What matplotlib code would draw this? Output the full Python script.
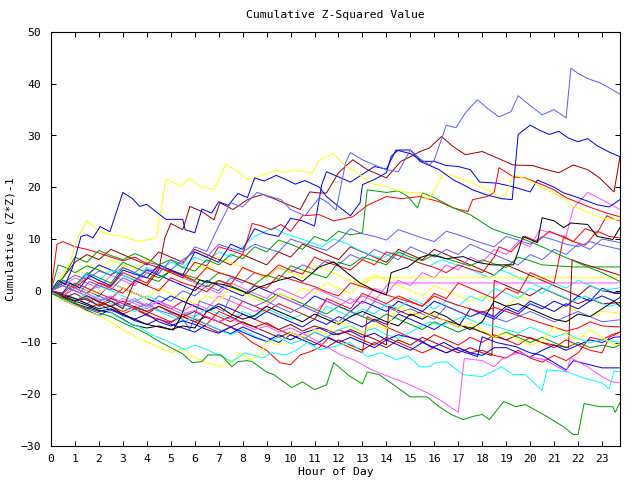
import matplotlib
matplotlib.use("Agg")
import matplotlib.pyplot as plt

# ---- data: (hour, cumulative value) vertices ----
s01 = [(0,0),(0.4,1.2),(0.8,0.3),(1.2,-0.4),(1.6,1.8),(2.0,1.0),(2.5,0.2),(3.0,2.5),(3.5,1.5),(4.0,4.2),(4.5,3.3),(5.0,6.0),(5.5,5.1),(6.0,8.5),(6.5,7.6),(7.0,12.5),(7.5,17.0),(8.0,16.2),(8.6,19.0),(9.0,18.4),(9.6,17.6),(10.0,15.7),(10.6,14.5),(11.2,18.0),(11.5,17.2),(11.9,15.6),(12.3,24.8),(12.5,26.7),(13.0,25.3),(13.5,24.3),(14.0,23.4),(14.5,23.0),(15.0,27.2),(15.4,25.5),(15.8,24.3),(16.0,25.3),(16.5,32.0),(16.9,31.5),(17.3,34.4),(17.8,36.9),(18.2,35.3),(18.7,33.6),(19.2,34.6),(19.5,37.7),(20.0,35.8),(20.5,34.0),(21.0,35.0),(21.5,33.4),(21.7,43.0),(22.0,42.0),(22.4,41.0),(22.9,40.2),(23.3,39.2),(23.75,38.0)]
s02 = [(0,0),(0.3,2),(0.6,1.2),(0.9,4.5),(1.25,10.5),(1.5,10.8),(1.75,10.2),(2.05,12.4),(2.46,11.4),(3.0,19.0),(3.4,17.8),(3.7,16.3),(4.0,16.7),(4.4,15.2),(4.8,13.8),(5.5,13.8),(5.6,11.8),(6.0,11.2),(6.3,15.8),(6.7,15.0),(7.0,17.2),(7.4,16.5),(7.8,18.8),(8.2,18.0),(8.5,21.8),(8.9,21.2),(9.4,22.3),(9.8,21.5),(10.2,20.6),(10.6,21.3),(11.2,20.0),(11.5,18.2),(12.0,16.3),(12.5,14.5),(12.9,17.0),(13.0,20.5),(13.5,21.5),(14.0,22.8),(14.2,26.0),(14.5,27.2),(15.0,27.2),(15.4,25.0),(15.9,24.0),(16.2,23.4),(16.8,21.4),(17.2,20.5),(17.6,19.5),(18.2,18.5),(18.8,17.8),(19.25,17.6),(19.5,30.2),(20.0,32.0),(20.4,31.0),(20.8,30.2),(21.2,30.8),(21.6,29.5),(22.0,28.8),(22.4,29.4),(22.8,28.0),(23.3,26.8),(23.75,25.9)]
s03 = [(0,0),(0.4,2.5),(0.8,5.5),(1.1,10.2),(1.5,13.5),(1.9,11.8),(2.5,10.8),(3.0,10.5),(3.6,9.6),(4.0,9.8),(4.4,10.3),(4.8,21.5),(5.1,21.0),(5.4,20.2),(5.8,21.8),(6.2,20.2),(6.8,19.5),(7.3,24.5),(7.8,23.0),(8.2,21.5),(8.6,22.0),(9.0,22.6),(9.4,23.3),(9.7,22.8),(10.1,23.4),(10.4,23.2),(10.9,22.7),(11.2,25.3),(11.8,26.5),(12.3,24.0),(12.8,22.8),(13.3,20.8),(14.0,20.1),(14.7,19.1),(15.2,18.9),(15.4,19.1),(15.7,17.6),(15.9,18.6),(16.4,22.8),(16.9,22.0),(17.5,21.0),(18.4,19.1),(18.9,17.6),(19.3,22.4),(19.9,21.5),(20.7,19.5),(21.5,17.6),(21.8,16.3),(22.4,15.2),(23.0,14.0),(23.75,13.7)]
s04 = [(0,0),(0.5,-1),(1.0,-2),(1.5,-1.5),(2.0,-3),(2.5,-2),(3.0,-3.5),(3.5,2.0),(4.0,1.0),(4.5,4.0),(4.75,10.2),(5.0,13.0),(5.5,11.8),(5.8,16.3),(6.3,15.3),(6.8,13.7),(7.05,17.0),(7.6,15.7),(8.2,17.6),(8.4,18.0),(8.85,18.6),(9.3,17.8),(9.7,17.0),(10.4,15.7),(10.8,19.1),(11.2,18.9),(11.5,18.9),(12.0,22.8),(12.6,25.3),(13.2,23.4),(14.0,21.8),(14.6,25.0),(15.0,25.9),(15.4,26.9),(15.8,27.6),(16.3,29.8),(16.8,27.8),(17.3,26.3),(18.0,26.9),(18.6,25.7),(19.3,24.3),(20.1,24.2),(20.6,23.5),(21.2,22.8),(21.8,24.3),(22.4,23.4),(22.9,21.8),(23.5,19.1),(23.75,25.9)]
s05 = [(0,0),(0.5,2.5),(1.0,6.5),(1.5,5.5),(2.0,7.8),(2.5,6.8),(3.0,6.0),(3.5,7.2),(4.0,6.2),(4.5,5.0),(5.0,6.0),(5.5,4.5),(6.0,3.8),(6.5,6.0),(7.0,5.0),(7.5,7.0),(8.0,6.2),(8.5,8.5),(9.0,7.5),(9.5,9.8),(10.0,9.0),(10.5,8.0),(11.0,10.5),(11.5,9.6),(12.0,11.5),(12.5,10.8),(13.0,11.2),(13.2,19.5),(14.0,19.0),(14.5,19.3),(14.9,18.2),(15.3,16.0),(15.5,18.9),(16.0,18.0),(16.8,16.0),(17.5,14.7),(18.4,12.0),(19.0,11.0),(19.6,10.2),(20.3,8.9),(21.4,6.6),(22.4,4.6),(23.0,3.5),(23.75,1.8)]
s06 = [(0,-0.5),(0.5,-1.5),(1.0,-2.3),(1.5,-3.5),(2.0,-4.3),(2.5,-5.0),(3.0,-6.2),(3.5,-7.2),(4.0,-8.3),(4.4,-9.5),(5.0,-11.0),(5.5,-12.2),(5.9,-13.9),(6.3,-13.7),(6.55,-12.4),(7.1,-12.4),(7.55,-14.7),(7.8,-13.7),(8.2,-13.5),(8.4,-13.7),(9.0,-15.7),(9.3,-16.2),(10.05,-18.7),(10.5,-17.6),(11.0,-19.1),(11.5,-18.2),(11.8,-13.9),(12.5,-16.6),(13.0,-18.0),(13.2,-15.7),(13.7,-16.2),(15.0,-20.5),(15.7,-20.5),(16.2,-22.4),(16.7,-23.9),(17.2,-24.9),(17.6,-24.3),(18.0,-23.9),(18.3,-24.9),(18.9,-21.4),(19.4,-22.4),(19.8,-22.0),(20.7,-24.3),(21.4,-26.3),(21.8,-27.8),(22.0,-27.8),(22.25,-21.8),(22.9,-22.4),(23.45,-22.4),(23.55,-23.5),(23.75,-21.6)]
s07 = [(0,0),(0.5,-1),(1,0.5),(1.5,-0.5),(2,-1.8),(2.5,-1),(3,-2.5),(3.5,-1.5),(4,-3),(4.5,-2),(5,-3.5),(5.5,-4.5),(6,-3.8),(6.5,-5),(7,-6),(7.5,-5.2),(8,-6.5),(8.5,-7.5),(9,-6.8),(9.5,-8),(10,-7.2),(10.8,-8.9),(11.3,-10.3),(12.1,-12.4),(12.7,-13.5),(13.4,-15.3),(14.1,-16.6),(14.8,-17.8),(15.7,-19.7),(16.2,-21.0),(17.0,-23.5),(17.25,-13.1),(18.0,-13.5),(18.5,-14.7),(18.8,-13.3),(19.2,-12.4),(19.6,-12.0),(20.0,-12.8),(20.6,-13.3),(21.5,-15.6),(21.7,-13.0),(22.4,-14.7),(23.0,-16.6),(23.4,-17.6),(23.75,-17.8)]
s08 = [(0,0),(0.5,-1.5),(1.0,-2.3),(1.5,-1.2),(2.0,-3.0),(2.5,-4.2),(3.2,-6.2),(3.7,-7.0),(4.2,-8.5),(4.8,-9.6),(5.6,-11.4),(6.0,-10.5),(6.3,-11.0),(7.0,-12.4),(7.55,-13.7),(8.1,-12.0),(8.85,-13.0),(9.2,-12.0),(9.8,-12.4),(10.2,-11.6),(10.7,-10.0),(11.2,-11.4),(11.8,-10.8),(12.5,-10.0),(13.2,-12.7),(13.8,-12.0),(14.4,-13.3),(14.9,-12.6),(15.4,-14.7),(15.8,-14.7),(16.0,-14.0),(16.5,-13.7),(17.2,-16.2),(18.0,-16.6),(18.8,-14.7),(19.3,-16.2),(19.8,-16.2),(20.5,-19.3),(20.7,-15.3),(21.5,-15.6),(22.2,-16.8),(23.0,-17.8),(23.3,-19.0),(23.5,-15.6),(23.75,-15.6)]
s09 = [(0,-0.5),(0.5,-1.8),(1.0,-2.8),(1.5,-4.0),(2.0,-4.8),(2.5,-6.0),(3.2,-8.1),(4.05,-10.0),(5.05,-12.0),(5.5,-11.0),(5.9,-12.7),(6.5,-13.8),(7.05,-14.7),(7.6,-13.3),(7.9,-12.0),(8.3,-13.3),(8.8,-12.2),(9.0,-9.5),(9.5,-10.5),(10.0,-8.0),(10.5,-9.0),(11.0,-7.5),(11.5,-8.3),(12.0,-6.0),(12.5,-7.0),(13.0,-8.0),(13.5,-6.5),(14.0,-7.5),(14.5,-3.0),(15.0,-4.0),(15.5,-5.0),(16.0,-4.5),(16.5,-6.0),(17.0,-7.0),(17.5,-6.2),(18.0,-7.5),(18.5,-9.0),(19.0,-8.2),(19.5,-9.5),(20.0,-10.5),(20.5,-9.8),(21.0,-7.0),(21.5,-8.5),(22.0,-9.5),(22.5,-7.5),(23.0,-9.0),(23.5,-10.5),(23.75,-10.2)]
s10 = [(0,0),(0.5,-1),(1,-2),(1.5,-2.8),(2,-3.8),(2.5,-4.2),(3.0,-5.5),(3.4,-6.6),(4.0,-7.2),(4.5,-6.8),(5.1,-7.6),(5.4,-5.2),(5.7,-1.7),(6.2,2.1),(6.7,1.5),(7.2,1.2),(7.6,0.6),(8.2,-0.5),(8.6,0.5),(9.0,1.2),(9.5,2.0),(10.1,2.7),(10.5,1.8),(11.2,4.6),(11.8,5.6),(12.35,3.5),(12.9,1.5),(13.45,0.2),(14.0,-0.8),(14.2,3.5),(14.9,4.6),(15.4,6.4),(15.8,7.0),(16.5,6.2),(17.2,6.6),(17.8,5.5),(18.4,5.0),(19.3,5.0),(19.5,7.6),(19.7,10.5),(20.3,9.3),(20.5,14.1),(21.0,13.5),(21.4,12.2),(21.7,13.1),(22.4,12.8),(22.8,10.5),(23.45,9.9),(23.75,12.2)]
s11 = [(0,0),(0.5,-0.8),(1,-1.5),(1.5,-2.5),(2,-3.5),(2.5,-3.0),(3,-4.5),(3.5,-5.5),(4,-6.5),(4.5,-7.0),(5,-7.5),(5.5,-6.8),(6,-7.2),(6.5,-4.0),(7,-3.0),(7.5,-4.5),(8,-5.5),(8.5,-4.8),(9,-3.0),(9.5,-4.0),(10,-5.0),(10.5,-6.0),(11,-4.5),(11.5,-5.5),(12,-6.5),(12.5,-5.0),(13,-4.0),(13.5,-5.0),(14,-6.0),(14.5,-6.8),(15,-4.5),(15.5,-5.5),(16,-4.0),(16.5,-5.0),(17,-6.5),(17.5,-7.5),(18,-6.0),(18.5,-2.0),(19,-3.0),(19.5,-2.5),(20,-3.5),(20.5,-4.5),(21,-5.5),(21.5,-6.0),(22,-4.5),(22.5,-5.0),(23,-3.5),(23.5,-2.0),(23.75,-3.0)]
s12 = [(0,0),(0.5,1.5),(1,0.5),(1.5,2.5),(2,1.5),(2.5,0.8),(3,3.5),(3.5,2.5),(4,1.5),(4.5,4.5),(5,3.5),(5.5,2.5),(6,5.5),(6.5,4.8),(7,8.5),(7.5,7.8),(8,7.0),(8.4,13.0),(8.8,12.5),(9.2,11.8),(9.6,12.8),(10.0,11.5),(10.5,14.5),(11.2,14.7),(11.8,13.5),(12.6,14.3),(13.2,16.5),(14.0,18.2),(14.6,17.8),(15.4,18.2),(16.2,17.2),(16.8,16.0),(17.4,15.3),(17.6,17.6),(18.2,18.2),(18.5,19.0),(18.7,23.8),(19.3,22.0),(19.8,21.8),(20.5,20.5),(21.0,19.5),(21.5,18.0),(22.4,16.3),(23.2,15.0),(23.75,14.3)]
s13 = [(0,0),(0.4,-1),(0.8,1.5),(1.2,0.5),(1.6,3.0),(2.0,2.0),(2.5,1.0),(3.0,4.0),(3.5,3.2),(4.0,2.5),(4.5,5.0),(5.0,4.0),(5.5,3.0),(6.0,7.5),(6.5,6.5),(7.0,5.5),(7.5,9.0),(8.0,8.0),(8.5,12.0),(9.0,11.0),(9.5,10.5),(10.0,14.0),(10.5,13.5),(11.0,12.5),(11.3,20.5),(11.5,23.0),(12.0,22.0),(12.5,21.0),(13.0,22.5),(13.5,24.0),(14.0,23.5),(14.4,27.2),(15.0,26.5),(15.5,25.0),(16.0,25.0),(16.5,24.2),(17.0,24.0),(17.5,23.4),(17.9,21.0),(18.6,20.8),(19.2,20.2),(20.0,19.1),(20.3,21.4),(21.0,20.0),(21.4,18.9),(22.0,18.0),(22.8,16.6),(23.3,16.2),(23.75,17.6)]
s15 = [(0,0),(0.25,9.0),(0.5,9.5),(1.0,8.5),(1.5,8.0),(2.0,7.3),(2.5,6.5),(3.0,5.8),(3.5,6.5),(4.0,5.2),(4.5,4.5),(5.0,3.8),(5.5,3.0),(6.0,2.0),(6.5,4.5),(7.0,3.5),(7.5,2.8),(8.0,2.0),(8.5,1.0),(9.0,0.5),(9.5,3.0),(10.0,2.2),(10.5,1.5),(11.0,0.8),(11.5,-0.2),(12.0,-1.0),(12.5,1.5),(13.0,0.8),(13.5,0.0),(14.0,-0.8),(14.5,-1.5),(15.0,-2.2),(15.5,-3.0),(16.0,-1.0),(16.5,-2.0),(17.0,-2.8),(17.5,-3.5),(18.0,-4.2),(18.5,-3.2),(19.0,-4.0),(19.5,-4.8),(20.0,-5.5),(20.5,-6.3),(21.0,-7.0),(21.5,-7.8),(22.0,-7.2),(22.5,-6.0),(23.0,-6.8),(23.75,-7.0)]
s16 = [(0,0),(0.5,-1.2),(1,-2.0),(1.5,-1.0),(2,-2.2),(2.5,-3.0),(3,-2.0),(3.5,-3.2),(4,-4.0),(4.5,-3.0),(5,-4.2),(5.5,-5.0),(6,-4.0),(6.5,-5.2),(7,-6.0),(7.5,-5.0),(8,-6.2),(8.5,-7.0),(9,-6.2),(9.5,-7.5),(10,-6.5),(10.5,-7.8),(11,-6.8),(11.5,-7.5),(12,-8.5),(12.5,-7.5),(13,-8.5),(13.5,-9.3),(14.0,-10.5),(14.1,-3.0),(14.5,-3.8),(15,-4.8),(15.5,-4.0),(16,-5.0),(16.5,-5.8),(17,-6.5),(17.5,-7.2),(18,-8.0),(18.5,-8.8),(19,-9.5),(19.5,-8.5),(20,-9.2),(20.5,-10.0),(21,-10.5),(21.6,-11.0),(21.75,6.0),(22.2,5.2),(22.7,4.5),(23.2,3.8),(23.75,3.0)]
s17 = [(0,0),(0.5,-1.2),(1,-2.5),(1.5,-3.2),(2,-4.0),(2.5,-3.5),(3,-4.8),(3.5,-5.5),(4,-4.5),(4.5,-6.0),(5,-6.8),(5.5,-5.8),(6,-6.5),(6.5,-7.5),(7,-8.2),(7.5,-7.0),(8,-8.0),(8.5,-9.0),(9,-9.8),(9.5,-8.5),(10,-9.5),(10.5,-8.2),(11.2,-7.2),(11.8,-8.5),(12.5,-7.8),(13,-9.0),(13.5,-8.2),(14,-9.5),(14.5,-8.5),(15.4,-9.5),(15.9,-11.0),(16.4,-10.0),(17.0,-11.5),(17.8,-12.7),(18.0,-8.9),(18.6,-10.0),(19.4,-10.8),(20.0,-12.0),(20.5,-12.5),(21.0,-13.9),(21.5,-15.3),(21.8,-13.5),(22.4,-14.2),(23.0,-14.9),(23.75,-14.9)]
s18 = [(0,0),(0.5,-0.8),(1,-1.8),(1.5,-0.5),(2,-1.5),(2.5,-2.5),(3,-3.2),(3.5,-4.0),(4,-3.0),(4.5,-4.0),(5,-5.0),(5.5,-6.0),(6,-5.2),(6.5,-6.5),(7,-7.5),(7.5,-8.5),(8,-7.5),(8.5,-8.8),(9,-9.8),(9.5,-9.0),(10,-10.2),(10.5,-9.5),(11,-8.0),(11.5,-9.0),(12,-7.5),(12.5,-6.8),(13,-8.0),(13.5,-7.2),(14,-8.5),(14.5,-9.2),(15,-8.0),(15.8,-6.0),(16.3,-6.8),(17.2,-5.0),(17.8,-6.2),(18.5,-6.8),(19.0,-7.5),(19.5,-8.2),(20.0,-7.0),(20.5,-8.0),(21.0,-9.0),(21.5,-8.2),(22.0,-9.3),(22.5,-10.0),(23.0,-9.5),(23.75,-10.0)]
s19 = [(0,0),(0.5,1.0),(1,0.0),(1.5,-1.0),(2,-2.0),(2.5,-1.2),(3,-2.5),(3.5,-3.5),(4,-2.5),(4.5,-3.8),(5,-4.5),(5.5,-5.5),(5.8,-7.5),(6.2,-2.0),(6.8,-3.0),(7.2,-4.0),(7.5,-1.0),(8,-2.0),(8.5,-3.0),(9,-2.0),(9.5,-3.2),(10,-4.2),(10.5,-3.0),(11,-4.0),(11.5,-5.0),(12,-6.0),(12.5,-4.0),(13,-5.0),(13.5,-2.0),(14,-3.0),(14.5,-4.2),(15,-3.5),(15.5,-4.5),(16,-5.5),(16.5,-3.0),(17,-4.0),(17.5,-5.0),(18,-4.2),(18.5,-5.2),(19,-6.0),(19.5,-5.0),(20,-4.0),(20.5,-5.0),(21,-6.0),(21.5,-5.0),(22,-4.0),(22.5,-5.0),(23,-6.0),(23.75,-5.6)]
s20 = [(0,0),(0.5,1.5),(1,3.0),(1.5,2.2),(2,3.8),(2.5,3.0),(3,4.5),(3.5,3.5),(4,5.5),(4.5,5.0),(5,4.0),(5.5,6.0),(6,7.5),(6.5,6.5),(7,9.0),(7.5,8.2),(8,7.5),(8.5,9.0),(9,8.2),(9.5,7.5),(10,10.0),(10.5,9.2),(11,8.5),(11.5,7.8),(12,9.5),(12.5,12.0),(13,11.0),(13.5,10.5),(14,9.8),(14.5,11.8),(15,11.0),(15.5,10.2),(16,9.5),(16.5,11.5),(17,10.8),(17.5,10.0),(18,9.2),(18.5,8.5),(19,10.5),(19.5,9.8),(20,9.0),(20.5,10.5),(21,9.8),(21.5,9.0),(22,8.5),(22.5,9.5),(23,8.8),(23.75,8.0)]
s21 = [(0,0),(0.5,-1),(1,0.5),(1.5,-0.5),(2,1.5),(2.5,0.5),(3,-0.5),(3.5,2.0),(4,1.0),(4.5,0.0),(5,2.5),(5.5,1.5),(6,0.8),(6.5,-0.2),(7,2.0),(7.5,1.2),(8,4.5),(8.5,3.5),(9,2.8),(9.5,5.0),(10,4.0),(10.5,3.2),(11,6.5),(11.5,5.5),(12,4.8),(12.5,4.0),(13,6.0),(13.5,5.0),(14,7.5),(14.5,6.8),(15,6.0),(15.5,5.2),(16,4.5),(16.5,3.5),(17,5.0),(17.5,4.2),(18,3.5),(18.5,6.5),(18.7,8.5),(19.2,7.5),(19.8,10.5),(20.3,9.5),(20.8,11.5),(21.3,10.5),(21.8,9.5),(22.3,8.8),(22.8,11.5),(23.3,10.5),(23.75,10.2)]
s22 = [(0,0),(0.5,-1.5),(1,-2.5),(1.5,-3.5),(2,-2.5),(2.5,-3.8),(3,-4.5),(3.5,-3.5),(4,-4.8),(4.5,-5.5),(5,-6.2),(5.5,-4.5),(6,-5.5),(6.5,-6.5),(7,-4.0),(7.5,-5.0),(8,-2.0),(8.5,-3.0),(9,-4.0),(9.5,-2.5),(10,-3.5),(10.5,-4.5),(11,-5.5),(11.5,-1.5),(12,-2.5),(12.5,-3.5),(13,-0.5),(13.5,-1.5),(14,-2.5),(14.5,-1.0),(15,-2.0),(15.5,-3.0),(16,-0.5),(16.5,-1.5),(17,1.5),(17.5,0.5),(18,-0.5),(18.5,-1.5),(19,0.5),(19.5,-0.5),(20,3.5),(20.5,2.5),(21,1.5),(21.4,10.5),(21.8,9.5),(22.3,12.0),(22.8,11.2),(23.2,14.5),(23.5,13.8),(23.75,13.5)]
s23 = [(0,0),(0.5,2.0),(1,1.0),(1.5,3.5),(2,2.5),(2.5,1.5),(3,4.5),(3.5,3.5),(4,2.5),(4.5,1.8),(5,4.0),(5.5,3.2),(6,2.5),(6.5,1.5),(7,3.5),(7.5,2.8),(8,2.0),(8.5,1.2),(9,3.0),(9.5,2.2),(10,4.8),(10.5,4.0),(11,3.2),(11.5,2.5),(12,5.5),(12.5,4.8),(13,6.5),(13.5,5.8),(14,5.0),(14.5,7.5),(15,6.5),(15.5,5.8),(16,7.0),(16.5,6.2),(17,5.5),(17.5,4.8),(18,6.0),(18.5,5.2),(19,4.5),(19.5,6.5),(20,5.8),(20.5,5.0),(21.8,4.6),(23.75,4.6)]
s24 = [(0,0),(0.5,-0.8),(1,0.8),(1.5,0.0),(2,-0.8),(2.5,1.5),(3,0.5),(3.5,-0.5),(4,-1.5),(4.5,0.5),(5,-0.5),(5.5,-1.5),(6,-2.5),(6.5,-1.0),(7,-2.0),(7.5,0.5),(8,-0.5),(8.5,-1.5),(9,-2.5),(9.5,-0.5),(10,-1.5),(10.5,0.5),(11,-0.5),(11.5,1.5),(12,0.5),(12.5,-0.5),(13.2,2.5),(23.75,2.5)]
s25 = [(0,0),(0.5,1.0),(1,2.5),(1.5,1.5),(2,0.5),(2.5,3.0),(3,2.0),(3.5,1.0),(4,3.5),(4.5,4.5),(5,3.5),(5.5,2.5),(6,1.5),(6.5,0.5),(7,-0.5),(7.5,1.5),(8,0.5),(8.5,-0.5),(9,-1.5),(9.5,0.5),(10,-0.5),(10.5,-1.5),(11,0.5),(11.5,-0.5),(12,-1.5),(12.5,-2.5),(13,-1.0),(13.5,-2.0),(14.1,1.5),(23.75,1.5)]
s26 = [(0,0),(0.5,-1.0),(1,-2.0),(1.5,-1.0),(2,-2.2),(2.5,-3.0),(3,-1.5),(3.5,-2.5),(4,-3.5),(4.5,-2.0),(5,-3.0),(5.5,-4.0),(6,-2.5),(6.5,-3.5),(7,-1.0),(7.5,-2.0),(8,-3.0),(8.5,-4.0),(9,-3.0),(9.5,-1.0),(10,-2.0),(10.5,-3.0),(11,-4.0),(11.5,-2.0),(12,-3.0),(12.5,-1.5),(13,-2.5),(13.5,0.5),(14,-0.5),(14.5,2.0),(15,1.0),(15.5,3.5),(16,2.5),(16.5,5.0),(17,4.0),(17.5,6.5),(18,5.5),(18.5,8.0),(19,7.0),(19.5,9.5),(20,8.5),(20.4,11.8),(21,11.0),(21.5,10.5),(21.8,16.0),(22.4,19.0),(23,17.6),(23.75,15.7)]
s27 = [(0,0),(0.5,1.5),(1,0.5),(1.5,-0.5),(2,1.0),(2.5,0.0),(3,-1.0),(3.5,-2.0),(4,-1.0),(4.5,-2.0),(5,-3.0),(5.5,-4.0),(6,-5.0),(6.5,-3.5),(7,-4.5),(7.5,-5.5),(8,-4.0),(8.5,-5.0),(9,-3.5),(9.5,-4.5),(10,-5.5),(10.5,-4.5),(11,-5.5),(11.5,-3.0),(12,-4.0),(12.5,-5.0),(13,-3.5),(13.5,-4.5),(14,-2.5),(14.5,-3.5),(15,-1.5),(15.5,-2.5),(16,-3.5),(16.5,-2.0),(17,-3.0),(17.5,-1.0),(18,-2.0),(18.5,0.5),(19,-0.5),(19.5,-1.5),(20,0.5),(20.5,-0.5),(21,1.5),(21.5,0.5),(22,2.0),(22.5,1.0),(23,0.0),(23.75,0.6)]
s28 = [(0,0),(0.5,2.0),(1,1.0),(1.5,3.0),(2,2.0),(2.5,4.0),(3,3.0),(3.5,2.0),(4,4.5),(4.5,3.5),(5,5.5),(5.5,4.5),(6,6.5),(6.5,5.5),(7,7.5),(7.5,6.5),(8,8.5),(8.5,10.5),(9.3,12.2),(9.8,11.0),(10.3,10.2),(10.8,9.5),(11.3,8.5),(11.8,10.0),(12.3,9.2),(12.8,8.0),(13.3,7.0),(13.8,6.2),(14.3,7.5),(14.8,6.5),(15.3,5.5),(15.8,4.8),(16.3,6.0),(16.8,5.2),(17.3,4.5),(17.8,3.5),(18.3,2.5),(18.8,4.0),(19.3,3.0),(19.8,2.0),(20.3,1.0),(20.8,0.0),(21.3,-1.0),(21.8,-2.0),(22.3,-1.0),(22.8,-2.0),(23.3,-3.0),(23.75,-2.5)]
s29 = [(0,0),(0.5,-1.0),(1,1.0),(1.5,0.0),(2,-1.0),(2.5,1.5),(3,0.5),(3.5,-0.5),(4,-1.5),(4.5,-2.5),(5,-1.0),(5.5,-2.0),(6,-3.0),(6.5,-4.0),(7,-2.5),(7.5,-3.5),(8,-4.5),(8.5,-5.5),(9,-4.0),(9.5,-5.0),(10,-6.0),(10.5,-7.0),(11,-5.5),(11.5,-6.5),(12,-5.0),(12.5,-6.0),(13,-7.0),(13.5,-5.5),(14,-6.5),(14.5,-4.5),(15,-5.5),(15.5,-6.5),(16,-7.5),(16.5,-6.0),(17,-7.0),(17.5,-3.5),(18,-4.5),(18.5,-5.5),(19,-3.5),(19.5,-4.5),(20,-2.5),(20.5,-3.5),(21,-2.0),(21.5,-3.0),(22,-1.0),(22.5,-2.0),(23,0.5),(23.5,-0.5),(23.75,-0.5)]
s30 = [(0,0),(0.5,-1.8),(1,-2.8),(1.5,-3.8),(2,-4.8),(2.5,-3.5),(3,-4.5),(3.5,-5.8),(4,-6.5),(4.5,-5.5),(5,-6.5),(5.5,-7.2),(6,-8.0),(6.5,-6.5),(7,-7.5),(7.5,-8.3),(8,-7.0),(8.5,-8.0),(9,-9.0),(9.5,-10.0),(10,-8.5),(10.5,-9.5),(11,-10.5),(11.5,-9.0),(12,-10.0),(12.5,-9.0),(13,-10.0),(13.5,-11.0),(14,-9.5),(14.5,-10.5),(15,-11.5),(15.5,-10.0),(16,-11.0),(16.5,-12.0),(17,-11.0),(17.5,-12.0),(18,-12.5),(18.5,-11.0),(19,-11.0),(19.5,-12.0),(20,-12.8),(20.5,-11.5),(21,-10.5),(21.5,-11.5),(22,-10.5),(22.5,-9.5),(23,-10.0),(23.5,-9.0),(23.75,-8.9)]
s31 = [(0,0),(0.3,5.0),(0.6,4.5),(1,3.5),(1.5,4.8),(2,4.0),(2.5,3.0),(3,5.5),(3.5,4.5),(4,3.5),(4.5,2.5),(5,3.8),(5.5,2.8),(6,1.8),(6.5,0.8),(7,2.0),(7.5,1.0),(8,0.0),(8.5,-1.0),(9,-2.0),(9.5,-0.5),(10,-1.5),(10.5,-2.5),(11,-3.5),(11.5,-4.5),(12,-3.0),(12.5,-4.0),(13,-5.0),(13.5,-6.0),(14,-4.5),(14.5,-5.5),(15,-6.5),(15.5,-7.5),(16,-6.0),(16.5,-7.0),(17,-8.0),(17.5,-7.0),(18,-8.0),(18.5,-9.0),(19,-8.0),(19.5,-9.0),(20,-10.0),(20.5,-9.0),(21,-10.0),(21.5,-11.0),(22,-10.0),(22.5,-11.0),(23,-10.5),(23.5,-11.0),(23.75,-10.4)]
s32 = [(0,0),(0.5,-1.5),(1,-0.5),(1.5,-1.8),(2,-2.8),(2.5,-1.5),(3,-2.5),(3.5,-3.5),(4,-4.5),(4.5,-3.0),(5,-4.0),(5.5,-5.0),(6,-6.0),(6.5,-5.0),(7,-6.0),(7.5,-7.0),(8,-6.0),(8.5,-7.0),(9,-8.0),(9.5,-9.0),(10,-8.0),(10.5,-9.0),(11,-10.0),(11.5,-11.0),(12,-9.5),(12.5,-10.5),(13,-11.5),(13.5,-10.0),(14,-11.0),(14.5,-9.5),(15,-10.5),(15.5,-9.0),(16,-10.0),(16.5,-11.0),(17,-12.0),(17.5,-11.0),(18,-12.0),(18.4,-12.5),(18.5,2.0),(19,1.0),(19.5,0.0),(20,-1.0),(20.5,0.5),(21,-0.5),(21.5,-1.5),(22,-2.5),(22.5,-1.5),(23,-2.5),(23.75,-2.3)]
s33 = [(0,0),(0.5,-0.5),(1,1.5),(1.5,0.5),(2,-0.5),(2.5,-1.5),(3,0.5),(3.5,-0.5),(4,-1.5),(4.5,-2.5),(5,-3.5),(5.5,-2.0),(6,-3.0),(6.5,-4.0),(7,-5.0),(7.5,-6.0),(8,-4.5),(8.5,-5.5),(9,-6.5),(9.5,-7.5),(10,-8.5),(10.5,-9.5),(11,-8.0),(11.5,-9.0),(12,-7.5),(12.5,-8.5),(13,-9.5),(13.5,-10.5),(14,-9.0),(14.5,-10.0),(15,-11.0),(15.5,-12.0),(16,-11.0),(16.5,-12.0),(17,-11.0),(17.5,-12.0),(18,-11.5),(18.5,-12.5),(19,-13.0),(19.5,-11.5),(20,-13.0),(20.5,-13.8),(21,-12.5),(21.5,-13.5),(22,-12.0),(22.5,-9.0),(23,-9.5),(23.4,-8.5),(23.75,-8.0)]
s34 = [(0,0),(0.5,-1.0),(1,-2.0),(1.5,-1.0),(2,-2.0),(2.5,-3.0),(3,-4.0),(3.5,-3.0),(4,-4.0),(4.5,-5.0),(5,-6.0),(5.5,-5.0),(6,-6.0),(6.5,-7.0),(7,-8.0),(7.5,-7.0),(8,-8.5),(8.4,-10.0),(9.0,-11.5),(9.55,-13.9),(10.0,-14.3),(10.4,-12.4),(10.8,-11.8),(11.2,-11.0),(11.6,-9.0),(12.0,-10.0),(12.5,-11.0),(13,-12.0),(13.2,-5.0),(13.6,-6.0),(14,-7.0),(14.5,-8.0),(15,-9.0),(15.5,-10.0),(16,-8.5),(16.5,-9.5),(17,-10.5),(17.5,-9.0),(18,-10.0),(18.5,-8.5),(19,-9.5),(19.5,-10.5),(20,-9.0),(20.5,-10.0),(21,-11.0),(21.5,-9.5),(22,-10.5),(22.5,-11.5),(23,-12.0),(23.3,-9.0),(23.75,-8.0)]
s35 = [(0,0),(0.5,2.0),(1,1.0),(1.5,3.0),(2,5.0),(2.5,4.0),(3,3.0),(3.5,2.0),(4,4.0),(4.5,3.0),(5,2.0),(5.5,1.0),(6,0.0),(6.5,2.0),(7,1.0),(7.5,0.0),(8,-1.0),(8.5,1.0),(9,0.0),(9.5,-1.0),(10,-2.0),(10.5,-3.0),(11,-1.0),(11.5,-2.0),(12,-3.0),(12.5,-4.0),(13,-2.0),(13.5,-3.0),(14,-4.0),(14.5,-2.0),(15,-3.0),(15.5,-4.0),(16,-2.0),(16.5,-3.0),(17,-4.0),(17.5,-5.0),(18,-4.0),(18.5,-5.0),(19,-3.0),(19.5,-4.0),(20,-2.0),(20.5,-3.0),(21,-4.0),(21.5,-2.5),(22,-3.5),(22.5,-2.0),(23,-1.0),(23.5,-2.0),(23.75,-1.3)]
s36 = [(0,0),(0.5,1.5),(1,3.0),(1.5,5.0),(2,4.0),(2.5,6.0),(3,5.0),(3.5,4.0),(4,6.0),(4.5,5.0),(5,4.0),(5.5,6.0),(6,5.0),(6.5,4.0),(7,6.5),(7.5,5.5),(8,4.5),(8.5,3.5),(9,2.5),(9.5,4.5),(10,3.5),(10.5,2.5),(11,5.0),(11.5,4.0),(12,3.0),(12.5,2.0),(13,1.0),(13.5,3.0),(14,2.0),(14.5,1.0),(15,0.0),(15.5,-1.0),(16,1.0),(16.5,0.0),(17,-1.0),(17.5,-2.0),(18,-1.0),(18.5,-2.0),(19,-3.0),(19.5,-1.0),(20,-2.0),(20.5,-3.0),(21,-4.0),(21.5,-3.0),(22,-4.0),(22.5,-5.0),(23,-4.0),(23.75,-4.3)]
s37 = [(0,0),(0.5,2.5),(1,5.5),(1.5,7.0),(2,6.0),(2.5,8.0),(3,7.0),(3.5,6.0),(4,5.0),(4.5,7.5),(5,6.5),(5.5,5.5),(6,8.0),(6.5,7.0),(7,6.0),(7.5,5.0),(8,7.0),(8.5,6.0),(9,5.0),(9.5,7.5),(10,6.5),(10.5,9.0),(11,8.0),(11.5,7.0),(12,6.0),(12.5,8.5),(13,7.5),(13.5,6.5),(14,5.5),(14.5,8.0),(15,7.0),(15.5,6.0),(16,8.0),(16.5,7.0),(17,6.0),(17.5,5.0),(18,4.0),(18.5,3.0),(19,5.0),(19.5,4.0),(20,3.0),(20.5,2.0),(21,1.0),(21.5,0.0),(22,-1.0),(22.5,1.0),(23,0.0),(23.75,-0.5)]
s38 = [(0,0),(0.5,-0.5),(1,-1.5),(1.5,-2.5),(2,-1.0),(2.5,-2.0),(3,-3.0),(3.5,-2.0),(4,-3.0),(4.5,-1.0),(5,-2.0),(5.5,0.0),(6,-1.0),(6.5,1.0),(7,0.0),(7.5,2.5),(8,1.5),(8.5,3.5),(9,2.5),(9.5,4.5),(10,3.5),(10.5,5.0),(11,4.0),(11.5,6.0),(12,5.0),(12.5,7.0),(13,6.0),(13.5,8.0),(14,7.0),(14.5,6.0),(15,8.5),(15.5,7.5),(16,6.5),(16.5,8.0),(17,7.0),(17.5,9.0),(18,8.0),(18.5,7.0),(19,6.0),(19.5,5.0),(20,7.0),(20.5,6.0),(21,8.0),(21.5,7.0),(22,9.0),(22.5,8.0),(23,10.0),(23.75,9.3)]

# colour of each series (gnuplot-style palette)
R, G, B, M, C, DR, Y, K, LB = ('#ff0000', '#00a000', '#0000ff', '#ff50ff', '#00ffff',
                               '#a00000', '#ffff00', '#000000', '#6060ff')
series = [
    (s37, DR), (s38, LB), (s36, Y), (s35, B), (s34, R), (s33, R), (s32, DR),
    (s31, G), (s30, B), (s29, B), (s28, C), (s27, C), (s26, M), (s25, M),
    (s24, Y), (s23, G), (s22, R), (s21, R), (s20, LB), (s19, LB), (s18, C),
    (s17, B), (s16, DR), (s15, R), (s13, B), (s12, R), (s11, K), (s10, K),
    (s09, Y), (s08, C), (s07, M), (s06, G), (s05, G), (s04, DR), (s03, Y),
    (s02, B), (s01, LB),
]

x_ticks = list(range(0, 24))
y_ticks = [-30, -20, -10, 0, 10, 20, 30, 40, 50]

FONT = 'DejaVu Sans Mono'
plt.rcParams['font.family'] = FONT

fig = plt.figure(figsize=(6.4, 4.8), dpi=100)
ax = fig.add_axes([51/640, 34/480, 569/640, 414/480])

for pts, col in series:
    hx = [p[0] for p in pts]
    vy = [p[1] for p in pts]
    ax.plot(hx, vy, color=col, lw=0.72, antialiased=True)

ax.set_xlim(0, 23.75)
ax.set_ylim(-30, 50)
ax.set_xticks(x_ticks)
ax.set_yticks(y_ticks)
ax.tick_params(direction='in', length=3.6, width=0.72, top=True, right=True,
               labelsize=8.2, pad=6)
ax.tick_params(axis='y', pad=7)
for sp in ax.spines.values():
    sp.set_linewidth(0.8)

fig.text(335.5/640, 1 - 15/480, 'Cumulative Z-Squared Value', ha='center', va='center', fontsize=8.2)
fig.text(335.5/640, 1 - 472/480, 'Hour of Day', ha='center', va='center', fontsize=8.2)
fig.text(11/640, 1 - 239/480, 'Cumulative (Z*Z)-1', ha='center', va='center',
         rotation=90, fontsize=8.2)

fig.savefig('out.png', dpi=100)
